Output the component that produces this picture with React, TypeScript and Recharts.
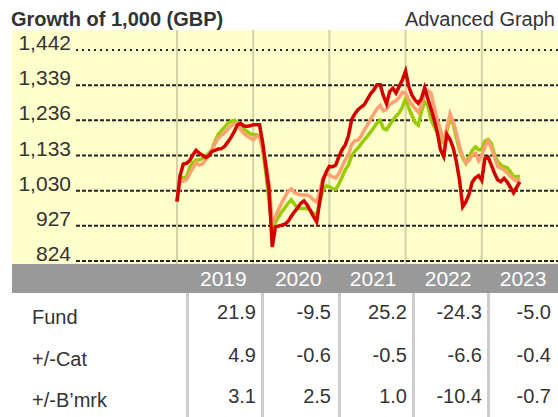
import React from "react";
import { LineChart, Line, XAxis, YAxis, ReferenceLine } from "recharts";

// ---- data ----
const yearLabels = ["2019", "2020", "2021", "2022", "2023"];
const yTicks = [824, 927, 1030, 1133, 1236, 1339, 1442];

// half-month samples from Jan 2019 (index * 0.5 months)
const fundValues = [
  998, 1075, 1108, 1110, 1118, 1135, 1148, 1140, 1134, 1127,
  1132, 1145, 1148, 1152, 1153, 1160, 1172, 1186, 1202, 1222,
  1228, 1220, 1218, 1220, 1223, 1223, 1223, 1170, 1100, 1030,
  865, 924, 926, 929, 932, 940, 955, 968, 980, 993,
  1000, 988, 972, 954, 939, 1000, 1060, 1085, 1101, 1100,
  1105, 1130, 1150, 1164, 1190, 1238, 1255, 1267, 1275, 1282,
  1298, 1314, 1325, 1340, 1340, 1308, 1285, 1320, 1330, 1316,
  1336, 1355, 1380, 1335, 1310, 1295, 1286, 1300, 1331, 1300,
  1270, 1238, 1200, 1150, 1130, 1195, 1180, 1155, 1115, 1060,
  983, 998, 1020, 1055, 1068, 1074, 1060, 1125, 1128, 1105,
  1081, 1062, 1056, 1066, 1055, 1040, 1024, 1040, 1056,
];
const categoryValues = [
  1000, 1060, 1058, 1062, 1080, 1095, 1112, 1105, 1108, 1120,
  1135, 1150, 1168, 1183, 1192, 1200, 1210, 1220, 1226, 1226,
  1210, 1198, 1191, 1185, 1179, 1188, 1190, 1155, 1110, 1050,
  934, 954, 975, 995, 1012, 1028, 1035, 1024, 1020, 1018,
  1017, 1017, 1012, 1003, 997, 1030, 1068, 1080, 1076, 1070,
  1067, 1080, 1101, 1120, 1135, 1165, 1176, 1178, 1190, 1208,
  1222, 1240, 1255, 1270, 1280, 1264, 1268, 1282, 1288, 1294,
  1303, 1318, 1316, 1296, 1282, 1270, 1260, 1280, 1315, 1324,
  1316, 1275, 1238, 1208, 1172, 1215, 1255, 1232, 1200, 1159,
  1130, 1112, 1118, 1135, 1140, 1118, 1135, 1160, 1175, 1155,
  1128, 1101, 1096, 1091, 1082, 1072, 1064, 1058, 1066,
];
const benchmarkValues = [
  998, 1071, 1068, 1070, 1098, 1112, 1120, 1120, 1124, 1130,
  1140, 1150, 1175, 1195, 1206, 1216, 1227, 1233, 1236, 1228,
  1218, 1210, 1204, 1197, 1194, 1194, 1190, 1148, 1080, 1000,
  914, 937, 953, 968, 980, 993, 1003, 990, 978, 978,
  978, 978, 972, 963, 958, 1000, 1032, 1044, 1042, 1036,
  1034, 1050, 1070, 1091, 1105, 1132, 1145, 1155, 1167, 1179,
  1190, 1202, 1215, 1228, 1236, 1212, 1208, 1223, 1236, 1248,
  1258, 1275, 1300, 1272, 1250, 1230, 1222, 1262, 1290, 1280,
  1238, 1218, 1200, 1182, 1170, 1205, 1240, 1225, 1185, 1150,
  1125, 1110, 1130, 1148, 1158, 1150, 1150, 1175, 1180, 1169,
  1135, 1115, 1105, 1100, 1097, 1085, 1071, 1071, 1073,
];

const rowLabels = ["Fund", "+/-Cat", "+/-B\u2019mrk"];
const fundReturns = [21.9, -9.5, 25.2, -24.3, -5.0];
const catDiff = [4.9, -0.6, -0.5, -6.6, -0.4];
const bmkDiff = [3.1, 2.5, 1.0, -10.4, -0.7];

// ---- build table for recharts ----
const chartData = fundValues.map((v, i) => ({
  m: i * 0.5,
  fund: v,
  cat: categoryValues[i],
  bmk: benchmarkValues[i],
}));
const tableRows = [fundReturns, catDiff, bmkDiff];

const FONT = "'Liberation Sans', Arial, Helvetica, sans-serif";
const yearStarts = yearLabels.map((_, i) => i * 12);
const yearTickPos = yearLabels.map((_, i) => 7.3 + i * 11.8);

const YTick = (props: any) => {
  const { y, payload } = props;
  return (
    <text x={71} y={y} textAnchor="end" fontSize={21} fill="#333" fontFamily={FONT}>
      {Number(payload.value).toLocaleString("en-US")}
    </text>
  );
};

const XTick = (props: any) => {
  const { x, index } = props;
  return (
    <text x={x} y={286} textAnchor="middle" fontSize={21} fill="#fff" fontFamily={FONT}>
      {yearLabels[index]}
    </text>
  );
};

const colX = [256, 331, 407, 482, 551];
const sepX = [186, 261, 338, 412, 487];
const labelBase = [324, 366, 407];
const valueBase = [319, 362, 403];

export default function App() {
  return (
    <div style={{ position: "absolute", left: 0, top: 0, width: 558, height: 417, background: "#fff", overflow: "hidden" }}>
      <svg width={558} height={417} style={{ position: "absolute", left: 0, top: 0 }} fontFamily={FONT}>
        <text x={11} y={26} fontSize={20} fontWeight="bold" fill="#333">Growth of 1,000 (GBP)</text>
        <text x={555} y={26} fontSize={20} textAnchor="end" fill="#333">Advanced Graph</text>
        <rect x={12} y={30} width={546} height={267} fill="#FFFFCC" />
        <rect x={12} y={264} width={546} height={29} fill="#999999" />
        <rect x={0} y={293} width={558} height={124} fill="#fff" />
        {sepX.map((x, i) => (
          <rect key={i} x={x} y={293} width={3} height={124} fill="#cccccc" />
        ))}
        {rowLabels.map((l, r) => (
          <text key={l} x={32} y={labelBase[r]} fontSize={20} fill="#333">{l}</text>
        ))}
        {tableRows.map((row, r) =>
          row.map((v, c) => (
            <text key={r + "-" + c} x={colX[c]} y={valueBase[r]} fontSize={20} textAnchor="end" fill="#333">
              {v.toFixed(1)}
            </text>
          ))
        )}
      </svg>
      <div style={{ position: "absolute", left: 0, top: 0 }}>
        <LineChart width={558} height={300} data={chartData} margin={{ top: 30, right: 0, bottom: 6, left: 12 }}>
          <XAxis
            dataKey="m"
            type="number"
            domain={[-15.9, 60]}
            allowDataOverflow
            ticks={yearTickPos}
            interval={0}
            tick={<XTick />}
            axisLine={false}
            tickLine={false}
            height={30}
          />
          <YAxis
            type="number"
            domain={[815.2, 1500.6]}
            allowDataOverflow
            ticks={yTicks}
            interval={0}
            tick={<YTick />}
            axisLine={false}
            tickLine={false}
            width={64}
          />
          {yearStarts.map((m) => (
            <ReferenceLine key={"v" + m} x={m} stroke="#d6d1a4" strokeWidth={2} />
          ))}
          {yTicks.map((t, i) => (
            <ReferenceLine
              key={"h" + t}
              y={t}
              stroke="#222"
              strokeWidth={2}
              strokeDasharray={i === yTicks.length - 1 ? "2 4" : "4 2"}
            />
          ))}
          <Line dataKey="bmk" stroke="#99cc00" strokeWidth={3.5} dot={false} isAnimationActive={false} />
          <Line dataKey="cat" stroke="#ff9f73" strokeWidth={3.5} dot={false} isAnimationActive={false} />
          <Line dataKey="fund" stroke="#d40000" strokeWidth={3.5} dot={false} isAnimationActive={false} />
        </LineChart>
      </div>
    </div>
  );
}
